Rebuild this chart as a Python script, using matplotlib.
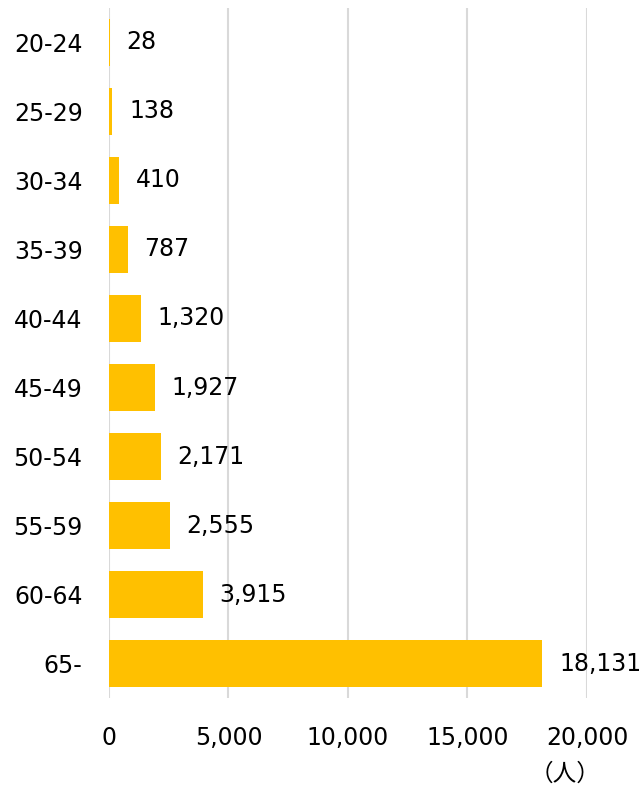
import matplotlib.pyplot as plt

plt.rcParams['font.family'] = ['DejaVu Sans', 'Noto Sans CJK JP']

ages = ['20-24', '25-29', '30-34', '35-39', '40-44', '45-49',
        '50-54', '55-59', '60-64', '65-']
counts = [28, 138, 410, 787, 1320, 1927, 2171, 2555, 3915, 18131]
xticks = [0, 5000, 10000, 15000, 20000]

fig = plt.figure(figsize=(6.43, 7.89), dpi=100)
ax = fig.add_axes([0.1695, 0.1153, 0.7434, 0.8746])

bars = ax.barh(ages, counts, height=0.67, color='#FFC000', zorder=2)
ax.bar_label(bars, labels=[f'{v:,}' for v in counts], padding=12,
             fontsize=17, color='black')

ax.set_xlim(0, 20000)
ax.set_ylim(9.5, -0.5)
ax.set_xticks(xticks)
ax.set_xticklabels([f'{v:,}' for v in xticks])
ax.grid(axis='x', color='#d9d9d9', linewidth=1.5, zorder=0)
ax.grid(axis='y', visible=False)
for s in ax.spines.values():
    s.set_visible(False)
ax.tick_params(axis='both', length=0, labelsize=17)
ax.tick_params(axis='x', pad=20)
ax.tick_params(axis='y', pad=19)

fig.text(0.878, 0.01, '（人）', fontsize=17, ha='center',
         family=['Noto Sans CJK JP', 'DejaVu Sans'])

fig.savefig('out.png', dpi=100)
